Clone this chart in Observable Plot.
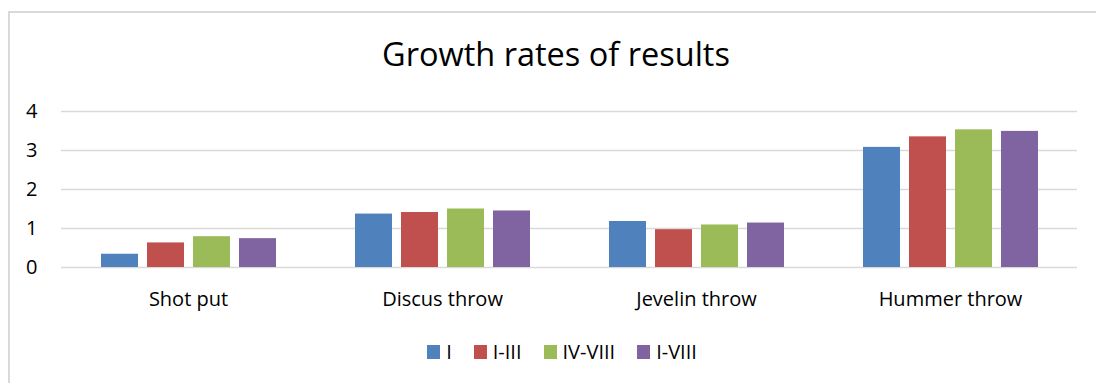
<!DOCTYPE html>
<html>
<head>
<meta charset="utf-8">
<script src="https://cdn.jsdelivr.net/npm/d3@7"></script>
<script src="https://cdn.jsdelivr.net/npm/@observablehq/plot@0.6"></script>
<style>
  html, body { margin: 0; padding: 0; background: #fff; }
  #wrap { position: relative; width: 1096px; height: 383px; overflow: hidden; font-family: "Open Sans", sans-serif; color: #000; }
  #border { position: absolute; left: 8px; top: 11px; width: 1200px; height: 500px; border: 2px solid #d9d9d9; box-sizing: border-box; }
  #title { position: absolute; left: 48px; width: 1016px; top: 34px; text-align: center; font-size: 32.5px; line-height: 40px; }
  #chart { position: absolute; left: 0; top: 91px; }
  #legend { position: absolute; left: 54px; width: 1016px; top: 339px; display: flex; justify-content: center; align-items: center; font-size: 20px; line-height: 26px; }
  .item { display: flex; align-items: center; margin: 0 11px; }
  .sw { width: 13px; height: 14px; margin-right: 6px; }
</style>
</head>
<body>
<div id="wrap">
  <div id="border"></div>
  <div id="title">Growth rates of results</div>
  <div id="chart"></div>
  <div id="legend"></div>
</div>
<script>
const categories = ["Shot put", "Discus throw", "Jevelin throw", "Hummer throw"];
const series = ["I", "I-III", "IV-VIII", "I-VIII"];
const valuesI = [0.34, 1.37, 1.18, 3.08];
const valuesI_III = [0.63, 1.41, 0.97, 3.35];
const valuesIV_VIII = [0.79, 1.50, 1.09, 3.53];
const valuesI_VIII = [0.74, 1.45, 1.14, 3.49];
const yTicks = [0, 1, 2, 3, 4];
const colors = ["#4f81bd", "#c0504d", "#9bbb59", "#8064a2"];

const seriesValues = [valuesI, valuesI_III, valuesIV_VIII, valuesI_VIII];
const data = [];
categories.forEach((c, i) => {
  series.forEach((s, j) => {
    data.push({category: c, series: s, value: seriesValues[j][i]});
  });
});

const chart = Plot.plot({
  width: 1096,
  height: 230,
  marginTop: 20,
  marginBottom: 54,
  marginLeft: 61,
  marginRight: 19,
  style: {fontFamily: "Open Sans, sans-serif", fontSize: "20px", color: "#000", background: "transparent"},
  fx: {domain: categories, padding: 0, axis: "bottom", tickSize: 0, tickPadding: 24, label: null},
  x: {domain: series, paddingInner: 0.2, paddingOuter: 0.84, axis: null},
  y: {domain: [0, 4], ticks: yTicks, tickSize: 0, tickPadding: 24, label: null, tickFormat: d3.format("d")},
  color: {domain: series, range: colors},
  marks: [
    Plot.ruleY(yTicks, {stroke: "#d9d9d9", strokeWidth: 1.3}),
    Plot.barY(data, {fx: "category", x: "series", y: "value", fill: "series", insetLeft: 0, insetRight: 0})
  ]
});
document.getElementById("chart").appendChild(chart);

const legend = document.getElementById("legend");
series.forEach((s, j) => {
  const item = document.createElement("div");
  item.className = "item";
  const sw = document.createElement("div");
  sw.className = "sw";
  sw.style.background = colors[j];
  const label = document.createElement("span");
  label.textContent = s;
  item.appendChild(sw);
  item.appendChild(label);
  legend.appendChild(item);
});
</script>
</body>
</html>
